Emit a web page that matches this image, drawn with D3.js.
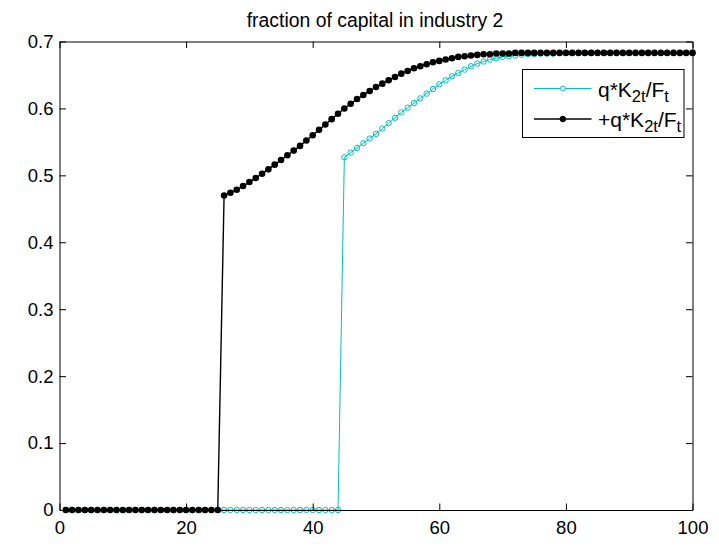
<!DOCTYPE html>
<html>
<head>
<meta charset="utf-8">
<script src="https://cdn.jsdelivr.net/npm/d3@7"></script>
<style>
  html, body { margin: 0; padding: 0; background: #fff; }
  text { font-family: "Liberation Sans", Arial, Helvetica, sans-serif; fill: #000; }
</style>
</head>
<body>
<script>
// 데이터
const chartTitle = "fraction of capital in industry 2";
const periods = d3.range(1, 101);
const xTicks = [0, 20, 40, 60, 80, 100];
const yTicks = [0, 0.1, 0.2, 0.3, 0.4, 0.5, 0.6, 0.7];

const cyanValues = [
  0, 0, 0, 0, 0, 0, 0, 0, 0, 0,
  0, 0, 0, 0, 0, 0, 0, 0, 0, 0,
  0, 0, 0, 0, 0, 0, 0, 0, 0, 0,
  0, 0, 0, 0, 0, 0, 0, 0, 0, 0,
  0, 0, 0, 0, 0.527, 0.534, 0.541, 0.548, 0.555, 0.562,
  0.570, 0.578, 0.586, 0.594, 0.601, 0.608, 0.615, 0.622, 0.629, 0.636,
  0.642, 0.648, 0.653, 0.658, 0.663, 0.667, 0.670, 0.673, 0.675, 0.677,
  0.678, 0.679, 0.680, 0.681, 0.681, 0.682, 0.682, 0.682, 0.683, 0.683,
  0.683, 0.683, 0.683, 0.683, 0.683, 0.683, 0.683, 0.683, 0.683, 0.683,
  0.683, 0.683, 0.683, 0.683, 0.683, 0.683, 0.683, 0.683, 0.683, 0.683
];

const blackValues = [
  0, 0, 0, 0, 0, 0, 0, 0, 0, 0,
  0, 0, 0, 0, 0, 0, 0, 0, 0, 0,
  0, 0, 0, 0, 0, 0.470, 0.474, 0.4785, 0.484, 0.490,
  0.496, 0.5025, 0.509, 0.516, 0.523, 0.530, 0.537, 0.544, 0.552, 0.560,
  0.568, 0.576, 0.584, 0.592, 0.600, 0.607, 0.614, 0.620, 0.626, 0.632,
  0.637, 0.642, 0.647, 0.652, 0.656, 0.660, 0.663, 0.666, 0.669, 0.671,
  0.673, 0.675, 0.677, 0.678, 0.679, 0.680, 0.681, 0.681, 0.682, 0.682,
  0.682, 0.683, 0.683, 0.683, 0.683, 0.683, 0.683, 0.683, 0.683, 0.683,
  0.683, 0.683, 0.683, 0.683, 0.683, 0.683, 0.683, 0.683, 0.683, 0.683,
  0.683, 0.683, 0.683, 0.683, 0.683, 0.683, 0.683, 0.683, 0.683, 0.683
];

const cyan = "#00bfbf";

const svg = d3.select("body").append("svg")
  .attr("width", 719)
  .attr("height", 548)
  .attr("viewBox", "0 0 719 548");

svg.append("rect").attr("width", 719).attr("height", 548).attr("fill", "#fff");

const plot = { left: 59.5, right: 692.5, top: 41.5, bottom: 510 };

const x = d3.scaleLinear().domain([0, 100]).range([plot.left, plot.right]);
const y = d3.scaleLinear().domain([0, 0.7]).range([plot.bottom, plot.top]);

// 제목
svg.append("text")
  .attr("x", (plot.left + plot.right) / 2 - 1)
  .attr("y", 27)
  .attr("text-anchor", "middle")
  .style("font-size", "19.4px")
  .text(chartTitle);

// 선
const series = [
  { name: "cyan", values: cyanValues, color: cyan, width: 1 },
  { name: "black", values: blackValues, color: "#000", width: 1.4 }
];

const line = d3.line()
  .x((d, i) => x(periods[i]))
  .y(d => y(d));

series.forEach(s => {
  svg.append("path")
    .datum(s.values)
    .attr("fill", "none")
    .attr("stroke", s.color)
    .attr("stroke-width", s.width)
    .attr("d", line);

  const marks = svg.append("g").selectAll("circle")
    .data(s.values)
    .join("circle")
    .attr("cx", (d, i) => x(periods[i]))
    .attr("cy", d => y(d))
    .attr("r", s.name === "black" ? 3.3 : 2.7);

  if (s.name === "black") {
    marks.attr("fill", "#000");
  } else {
    marks.attr("fill", "none").attr("stroke", cyan).attr("stroke-width", 1);
  }
});

// 축 (안쪽 눈금, 박스)
const tickLen = -6.5;

svg.append("g")
  .attr("transform", `translate(0,${plot.bottom})`)
  .call(d3.axisBottom(x).tickValues(xTicks).tickSizeInner(tickLen).tickSizeOuter(0).tickPadding(10.5));

svg.append("g")
  .attr("transform", `translate(${plot.left},0)`)
  .call(d3.axisLeft(y).tickValues(yTicks).tickSizeInner(tickLen).tickSizeOuter(0).tickPadding(6)
    .tickFormat(d => d === 0 ? "0" : d.toFixed(1)));

svg.append("g")
  .attr("transform", `translate(0,${plot.top})`)
  .call(d3.axisTop(x).tickValues(xTicks).tickSizeInner(tickLen).tickSizeOuter(0).tickFormat(""));

svg.append("g")
  .attr("transform", `translate(${plot.right},0)`)
  .call(d3.axisRight(y).tickValues(yTicks).tickSizeInner(tickLen).tickSizeOuter(0).tickFormat(""));

svg.selectAll(".domain, .tick line").attr("stroke", "#000").attr("stroke-width", 1);
svg.selectAll(".tick text")
  .style("font-family", "'Liberation Sans', Arial, sans-serif")
  .style("font-size", "18.5px")
  .attr("fill", "#000");

// 범례
const legend = svg.append("g");
legend.append("rect")
  .attr("x", 522.5).attr("y", 69.5)
  .attr("width", 161.5).attr("height", 68)
  .attr("fill", "#fff")
  .attr("stroke", "#000")
  .attr("stroke-width", 1);

const legendItems = [
  { prefix: "q*K", color: cyan, filled: false, ly: 88.5 },
  { prefix: "+q*K", color: "#000", filled: true, ly: 119 }
];

legendItems.forEach(it => {
  legend.append("line")
    .attr("x1", 534).attr("x2", 591.5)
    .attr("y1", it.ly).attr("y2", it.ly)
    .attr("stroke", it.color)
    .attr("stroke-width", it.filled ? 1.4 : 1);

  legend.append("circle")
    .attr("cx", 562.8).attr("cy", it.ly)
    .attr("r", it.filled ? 2.8 : 2.4)
    .attr("fill", it.filled ? "#000" : "#fff")
    .attr("stroke", it.color)
    .attr("stroke-width", 1);

  const t = legend.append("text")
    .attr("x", 598)
    .attr("y", it.ly + 8)
    .style("font-size", "21px");
  t.append("tspan").text(it.prefix);
  t.append("tspan").attr("dy", 5).style("font-size", "16.5px").text("2t");
  t.append("tspan").attr("dy", -5).text("/F");
  t.append("tspan").attr("dy", 5).style("font-size", "16.5px").text("t");
});
</script>
</body>
</html>
